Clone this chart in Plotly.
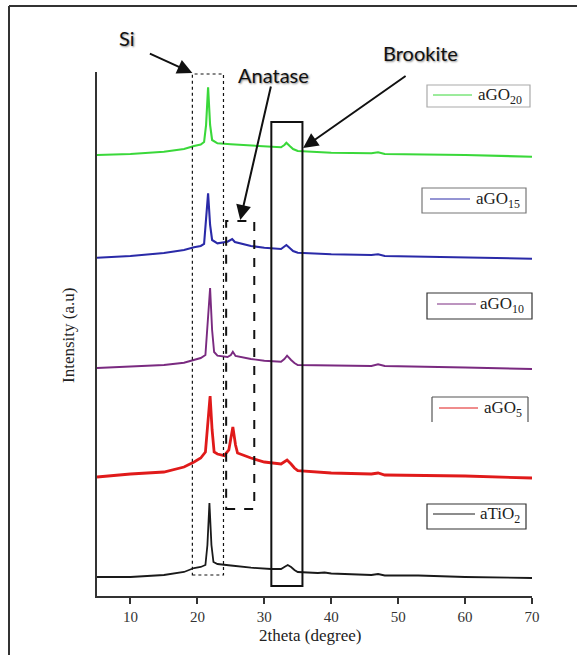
import plotly.graph_objects as go

# ---------------- data ----------------
x_aTiO2 = [5, 10, 15, 18, 19.5, 20.5, 21.2, 21.5, 21.8, 22.1, 22.4, 23, 25, 28, 31, 32.5, 33.0, 33.5, 34.0, 34.5, 35, 38, 39, 40, 42, 46, 47, 48, 53, 60, 70]
i_aTiO2 = [19, 19, 21, 24, 28, 29, 31, 51, 93, 51, 34, 32, 30.5, 28.3, 27, 27, 29, 31, 29, 26, 24, 23, 23.5, 22.5, 22, 21, 22, 20.5, 20.5, 19, 18]

x_aGO5 = [5, 10, 15, 18, 19.5, 20.5, 21.2, 21.5, 21.9, 22.2, 22.5, 23, 24, 24.7, 25.3, 25.7, 26, 28, 30, 32.5, 33.0, 33.4, 34.0, 34.5, 35, 40, 46, 47, 48, 60, 70]
i_aGO5 = [119, 122, 124, 129, 134, 138, 144, 166, 200, 166, 144, 142, 140.3, 146, 169, 151, 143, 138, 134, 132, 134, 136, 132, 128, 125.3, 123, 122, 123, 121, 120, 118]

x_aGO10 = [5, 10, 15, 18, 19.5, 20.5, 21.2, 21.5, 21.9, 22.2, 22.5, 23, 24.5, 25.0, 25.3, 25.7, 28, 30, 32.5, 33.0, 33.4, 34.0, 34.5, 35, 40, 46, 47, 48, 60, 70]
i_aGO10 = [228, 229.3, 231, 233.3, 236, 238, 241, 266, 308, 266, 244, 240.3, 239, 241, 244.3, 240, 237, 235.3, 234.3, 237, 240.3, 236, 233, 231, 230.3, 230, 231.7, 230, 228.5, 227]

x_aGO15 = [5, 10, 15, 18, 19.5, 20.5, 21.0, 21.3, 21.6, 21.9, 22.2, 23, 24.5, 25.2, 25.6, 28, 30, 32.5, 33.0, 33.3, 33.8, 34.3, 35, 40, 46, 47, 48, 60, 70]
i_aGO15 = [338.3, 340, 343, 346, 348.7, 350, 352, 376, 402.7, 371, 356, 352.7, 354.3, 357, 354, 350, 348.3, 347, 349, 351, 348, 345, 343.3, 341.7, 341, 341.7, 340, 338.7, 337.3]

x_aGO20 = [5, 10, 15, 18, 19.5, 20.5, 21.0, 21.3, 21.6, 21.9, 22.2, 23, 25, 28, 30, 32.5, 33.0, 33.3, 33.8, 34.3, 35, 40, 46, 47, 48, 60, 70]
i_aGO20 = [441, 442, 444.3, 447, 450, 451.5, 454, 471, 508.7, 471, 456, 452.7, 451.7, 450.3, 449.3, 448.7, 451, 453.3, 450, 447, 445, 443.3, 442.7, 443.7, 442, 441, 439.3]

x_ticks = [10, 20, 30, 40, 50, 60, 70]
x_tick_labels = ["10", "20", "30", "40", "50", "60", "70"]

series_names = ["aTiO<sub>2</sub>", "aGO<sub>5</sub>", "aGO<sub>10</sub>", "aGO<sub>15</sub>", "aGO<sub>20</sub>"]
series_colors = ["#1a1a1a", "#e01a1a", "#7a2a80", "#2a2aa8", "#3ad83a"]
series_widths = [1.8, 2.8, 1.9, 2.1, 2.1]

# ---------------- figure ----------------
W, H = 577, 655
L, R, T, B = 97, 45, 72, 59


def PX(px):
    return (px - L) / (W - L - R)


def PY(py):
    return (H - B - py) / (H - T - B)


fig = go.Figure()
xs = [x_aTiO2, x_aGO5, x_aGO10, x_aGO15, x_aGO20]
ys = [i_aTiO2, i_aGO5, i_aGO10, i_aGO15, i_aGO20]
for xv, yv, nm, c, w in zip(xs, ys, series_names, series_colors, series_widths):
    fig.add_trace(go.Scatter(x=xv, y=yv, mode="lines", name=nm,
                             line=dict(color=c, width=w), showlegend=False))

shapes = []
annotations = []

# region boxes (data coordinates)
shapes.append(dict(type="rect", xref="x", yref="y", x0=19.25, x1=23.9, y0=21, y1=522,
                   line=dict(color="#111", width=1.2, dash="dot")))
shapes.append(dict(type="rect", xref="x", yref="y", x0=24.3, x1=28.5, y0=87, y1=375,
                   line=dict(color="#111", width=2, dash="dash")))
shapes.append(dict(type="rect", xref="x", yref="y", x0=31.05, x1=35.7, y0=10, y1=474,
                   line=dict(color="#111", width=2)))

# outer frame (left and top)
shapes.append(dict(type="line", xref="paper", yref="paper", x0=PX(9), x1=PX(9), y0=PY(6), y1=PY(H),
                   line=dict(color="#333", width=2)))
shapes.append(dict(type="line", xref="paper", yref="paper", x0=PX(9), x1=PX(W), y0=PY(6), y1=PY(6),
                   line=dict(color="#333", width=2)))

# legend boxes
legend_boxes = [
    # (x0, x1, y0, y1, line_x0, line_x1, line_y, text_x, border color, open bottom)
    (427, 526, 504, 529, 433, 475, 514, 478, "#333", False),
    (432, 528, 397, 422, 439, 478, 408, 482, "#555", True),
    (427, 532, 293, 319, 437, 476, 304, 478, "#333", False),
    (422, 526, 188, 213, 430, 470, 199, 474, "#777", False),
    (427, 530, 85, 107, 433, 472, 95, 476, "#aaa", False),
]
for (bx0, bx1, by0, by1, lx0, lx1, ly, tx, bc, open_bottom), nm, c in zip(legend_boxes, series_names, series_colors):
    if open_bottom:
        for (a, b, cc, d) in [(bx0, by0, bx1, by0), (bx0, by0, bx0, by1), (bx1, by0, bx1, by1)]:
            shapes.append(dict(type="line", xref="paper", yref="paper", x0=PX(a), y0=PY(b), x1=PX(cc), y1=PY(d),
                               line=dict(color=bc, width=1.2)))
    else:
        shapes.append(dict(type="rect", xref="paper", yref="paper", x0=PX(bx0), x1=PX(bx1), y0=PY(by1), y1=PY(by0),
                           line=dict(color=bc, width=1.2)))
    shapes.append(dict(type="line", xref="paper", yref="paper", x0=PX(lx0), x1=PX(lx1), y0=PY(ly), y1=PY(ly),
                       line=dict(color=c, width=1)))
    annotations.append(dict(xref="paper", yref="paper", x=PX(tx), y=PY(ly + 1), xanchor="left", yanchor="middle",
                            text=nm, showarrow=False,
                            font=dict(family="Liberation Serif", size=17, color="#222")))

# labels with arrows
label_font = dict(family="Lato", size=20, color="#111", shadow="1px 1px 2px #888")
for txt, px, py in [("Si", 127, 38), ("Anatase", 273, 75), ("Brookite", 420, 53)]:
    annotations.append(dict(xref="paper", yref="paper", x=PX(px), y=PY(py), xanchor="center", yanchor="middle",
                            text=txt, showarrow=False, font=label_font))

arrow_common = dict(showarrow=True, text="", arrowhead=2, arrowsize=1.5, arrowwidth=2, arrowcolor="#111",
                    xref="x", yref="y", standoff=0)
annotations.append(dict(x=19.25, y=523, ax=-44, ay=-20, **arrow_common))
annotations.append(dict(x=26.4, y=376, ax=31, ay=-135, **arrow_common))
annotations.append(dict(x=35.8, y=448, ax=104, ay=-73, **arrow_common))

# axis titles
annotations.append(dict(xref="paper", yref="paper", x=PX(310), y=PY(635), xanchor="center", yanchor="middle",
                        text="2theta (degree)", showarrow=False,
                        font=dict(family="Liberation Serif", size=17, color="#222")))
annotations.append(dict(xref="paper", yref="paper", x=PX(68), y=PY(336), xanchor="center", yanchor="middle",
                        text="Intensity (a.u)", showarrow=False,
                        textangle=-90, font=dict(family="Liberation Serif", size=17, color="#222")))

fig.update_layout(
    width=W, height=H, autosize=False,
    margin=dict(l=L, r=R, t=T, b=B, pad=0),
    paper_bgcolor="white", plot_bgcolor="white",
    shapes=shapes, annotations=annotations,
    xaxis=dict(range=[5, 70], tickmode="array", tickvals=x_ticks, ticktext=x_tick_labels,
               showline=True, linecolor="#333", linewidth=1.5, ticks="outside", ticklen=6,
               tickwidth=1.5, tickcolor="#333", showgrid=False, zeroline=False,
               tickfont=dict(family="Liberation Serif", size=15, color="#333")),
    yaxis=dict(range=[0, 524], showline=True, linecolor="#333", linewidth=1.5, showticklabels=False,
               ticks="", showgrid=False, zeroline=False),
)

fig.write_html("out.html", config={"displayModeBar": False},
               post_script="document.body.style.margin='0';document.body.style.overflow='hidden';")
